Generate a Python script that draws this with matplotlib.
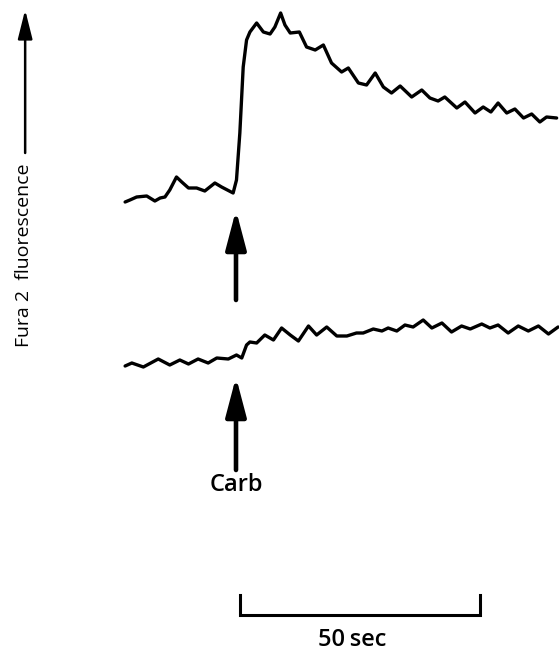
import matplotlib
matplotlib.use('Agg')
import matplotlib.pyplot as plt

# time relative to carbachol addition (sec) and fluorescence (arbitrary units)
t_top = [-23.1, -22.1, -20.7, -18.6, -16.9, -15.8, -14.8, -13.8, -12.4, -11.3,
         -9.9, -8.2, -6.5, -4.4, -3.0, -0.6, 0.1, 0.8, 1.5, 2.2, 2.9, 4.3, 5.7,
         7.1, 8.1, 9.3, 10.2, 11.3, 13.2, 14.7, 16.5, 18.2, 19.9, 22.0, 23.4,
         25.5, 27.2, 29.0, 30.7, 32.4, 34.2, 36.6, 38.7, 40.4, 42.1, 43.5, 46.0,
         47.7, 49.8, 51.5, 53.1, 54.6, 56.4, 58.1, 59.9, 61.6, 63.3, 64.7, 66.8]
f_top = [0, 2, 5, 6, 1, 4, 5, 12, 25, 20,
         14, 14, 11, 19, 15, 9, 22, 69, 135, 162, 170, 179, 170,
         168, 175, 189, 177, 169, 170, 155, 152, 157, 139, 130, 134,
         119, 117, 129, 115, 109, 116, 105, 112, 104, 101, 105, 94,
         100, 89, 95, 90, 99, 89, 93, 84, 88, 80, 85, 84]

t_bot = [-23.1, -21.7, -19.3, -16.2, -13.8, -11.7, -9.9, -7.9, -5.8, -4.0,
         -1.6, 0.1, 1.2, 2.2, 2.9, 4.3, 6.0, 7.8, 9.5, 11.3, 13.0, 15.1, 16.8,
         18.9, 21.0, 23.1, 25.1, 26.5, 28.6, 30.4, 31.7, 33.5, 35.2, 36.9, 39.0,
         40.8, 42.9, 44.9, 47.0, 48.8, 51.2, 52.9, 54.6, 56.7, 58.8, 60.9, 63.0,
         65.1, 67.1]
f_bot = [0, 3, -1, 7, 1, 6, 2, 7, 3, 8,
         7, 11, 8, 21, 24, 23, 31, 26, 38, 31, 25, 40, 31,
         39, 30, 30, 33, 33, 37, 35, 38, 35, 41, 39, 46,
         38, 43, 34, 40, 37, 42, 38, 41, 33, 40, 35, 40,
         32, 39]

stim_label = 'Carb'
scale_sec = 50
y_label = 'Fura 2  fluorescence'

# layout (data units: seconds horizontally, trace units vertically)
TOP_BASE = 449
BOT_BASE = 285
font = 'Open Sans'

fig = plt.figure(figsize=(5.59, 6.51), dpi=100)
ax = fig.add_axes([0, 0, 1, 1])
ax.set_xlim(-236 / 4.8, 323 / 4.8)
ax.set_ylim(0, 651)
ax.axis('off')

ax.plot(t_top, [TOP_BASE + v for v in f_top], color='black', lw=2.4,
        solid_joinstyle='round', solid_capstyle='round')
ax.plot(t_bot, [BOT_BASE + v for v in f_bot], color='black', lw=2.4,
        solid_joinstyle='round', solid_capstyle='round')

# stimulus arrows
arrow_style = dict(arrowstyle='-|>,head_length=0.95,head_width=0.25',
                   mutation_scale=25, lw=3.3, color='black',
                   shrinkA=0, shrinkB=0)
ax.annotate('', xy=(0, 441), xytext=(0, 351), arrowprops=arrow_style)
ax.annotate('', xy=(0, 274), xytext=(0, 181), arrowprops=arrow_style)
ax.text(0, 166, stim_label, ha='center', va='center', fontsize=17,
        family=font, fontweight='semibold')

# scale bar
t0 = 0.8
ax.plot([t0, t0, t0 + scale_sec, t0 + scale_sec], [56, 36, 36, 56],
        color='black', lw=2.2, solid_joinstyle='miter')
ax.text(t0 + scale_sec / 2 - 1.5, 11, f'{scale_sec}\u2009sec', ha='center',
        va='center', fontsize=17, family=font, fontweight='semibold')

# y label with arrow
fig.text(0.043, 0.467, y_label, rotation=90, ha='center', va='bottom',
         fontsize=14, family=font)
fig.add_artist(matplotlib.patches.FancyArrowPatch(
    (0.045, 0.765), (0.045, 0.985), transform=fig.transFigure,
    arrowstyle='-|>,head_length=0.8,head_width=0.2', mutation_scale=22,
    lw=1.8, color='black', shrinkA=0, shrinkB=0))

fig.savefig('out.png', dpi=100)
